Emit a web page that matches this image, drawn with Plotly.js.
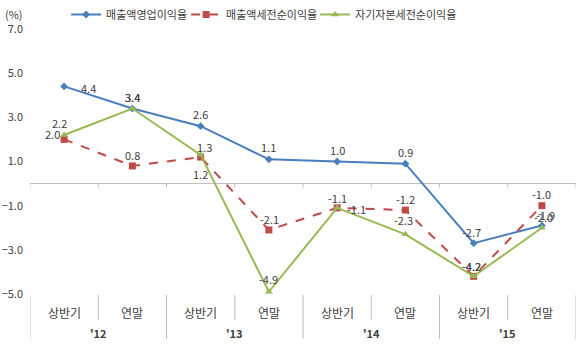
<!DOCTYPE html>
<html><head><meta charset="utf-8">
<script src="https://cdn.plot.ly/plotly-3.0.1.min.js"></script>
<style>html,body{margin:0;padding:0;background:#fff}#c{width:580px;height:353px}</style>
</head><body><div id="c"></div>
<script>
const halves = ['상반기','연말','상반기','연말','상반기','연말','상반기','연말'];
const years = ["'12","'13","'14","'15"];
const seriesNames = ['매출액영업이익율','매출액세전순이익율','자기자본세전순이익율'];
const opMargin = [4.4, 3.4, 2.6, 1.1, 1.0, 0.9, -2.7, -1.9];
const pretaxMargin = [2.0, 0.8, 1.2, -2.1, -1.1, -1.2, -4.2, -1.0];
const roePretax = [2.2, 3.4, 1.3, -4.9, -1.1, -2.3, -4.2, -2.0];

// label offsets in pixels [dx, dy(up)]
const opShift = [[24,-2],[0,12],[0,12],[0,12],[0,12],[0,12],[-2,11],[4,11]];
const ptShift = [[-12,5],[0,11],[0,-17],[1,11],[0,10],[0,11],[-2,10],[0,12]];
const roeShift = [[-5,12],[0,12],[4,8],[0,13],[19,-1],[-2,14],[-2,10],[2,11]];

const xs = halves.map((_, i) => i);
const colors = ['#4a7ebb', '#be4b48', '#98b954'];
const font = "'Noto Sans CJK KR', 'Noto Sans', sans-serif";

const traces = [
  {x: xs, y: opMargin, name: seriesNames[0], mode: 'lines+markers', legendwidth: 75,
   line: {color: colors[0], width: 2}, marker: {symbol: 'diamond', size: 6, color: colors[0]}},
  {x: xs, y: pretaxMargin, name: seriesNames[1], mode: 'lines+markers', legendwidth: 84,
   line: {color: colors[1], width: 2, dash: 'dash'}, marker: {symbol: 'square', size: 7, color: colors[1]}},
  {x: xs, y: roePretax, name: seriesNames[2], mode: 'lines+markers', legendwidth: 110,
   line: {color: colors[2], width: 2}, marker: {symbol: 'triangle-up', size: 7, color: colors[2]}}
];

const annotations = [];
const addLabels = (vals, shifts) => vals.forEach((v, i) => annotations.push({
  x: i, y: v, xref: 'x', yref: 'y', text: v.toFixed(1), showarrow: false,
  xshift: shifts[i][0], yshift: shifts[i][1], font: {family: font, size: 11, color: '#404040'}
}));
addLabels(opMargin, opShift);
addLabels(pretaxMargin, ptShift);
addLabels(roePretax, roeShift);

halves.forEach((h, i) => annotations.push({
  x: i, y: 0, xref: 'x', yref: 'paper', yanchor: 'middle', yshift: -18, text: h, showarrow: false,
  font: {family: font, size: 12, color: '#404040'}
}));
years.forEach((yr, g) => annotations.push({
  x: g * 2 + 0.5, y: 0, xref: 'x', yref: 'paper', yanchor: 'middle', yshift: -39, text: '<b>' + yr + '</b>', showarrow: false,
  font: {family: font, size: 11, color: '#404040'}
}));
annotations.push({x: 0, y: 1, xref: 'paper', yref: 'paper', xshift: -27, yshift: 15, text: '(%)', showarrow: false,
  xanchor: 'left', yanchor: 'middle', font: {family: font, size: 11, color: '#404040'}});

const shapes = [];
for (let b = 0; b <= halves.length; b++) {
  const bx = b - 0.5;
  shapes.push({type: 'line', xref: 'x', yref: 'y', ysizemode: 'pixel', yanchor: 0,
    x0: bx, x1: bx, y0: 0, y1: -4, line: {color: '#bfbfbf', width: 1}});
  const isGroup = b % 2 === 0;
  shapes.push({type: 'line', xref: 'x', yref: 'paper', ysizemode: 'pixel', yanchor: 0,
    x0: bx, x1: bx, y0: -1, y1: isGroup ? -45 : -26, line: {color: '#bfbfbf', width: 1}});
}

const layout = {
  width: 580, height: 353,
  margin: {l: 30, r: 4, t: 29, b: 59},
  paper_bgcolor: '#fff', plot_bgcolor: '#fff',
  font: {family: font, size: 11, color: '#404040'},
  showlegend: true,
  legend: {orientation: 'h', xref: 'container', yref: 'container', x: 0.114, y: 1, xanchor: 'left', yanchor: 'top',
    font: {family: font, size: 11, color: '#404040'}, itemwidth: 30, traceorder: 'normal'},
  xaxis: {range: [-0.5, 7.5], showticklabels: false, showgrid: false, zeroline: false, showline: false, ticks: ''},
  yaxis: {range: [-5, 7], tick0: -5, dtick: 2, tickformat: '.1f', showgrid: false, showline: false,
    zeroline: true, zerolinecolor: '#bfbfbf', zerolinewidth: 1, ticks: '', ticklabelstandoff: 6,
    tickfont: {family: font, size: 11, color: '#404040'}},
  annotations: annotations, shapes: shapes
};
Plotly.newPlot('c', traces, layout, {displayModeBar: false, staticPlot: true});
</script></body></html>
